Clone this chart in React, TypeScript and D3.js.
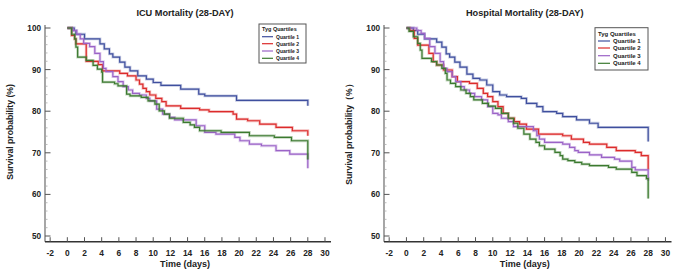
import React from "react";
import * as d3 from "d3";

// ---------- DATA ----------
const seriesNames = ["Quartile 1", "Quartile 2", "Quartile 3", "Quartile 4"];
const seriesColors = ["#3f4f9e", "#dc2b2b", "#9b63c7", "#3b7a2f"];
const legendTitle = "Tyg Quartiles";
const xTicks = [-2, 0, 2, 4, 6, 8, 10, 12, 14, 16, 18, 20, 22, 24, 26, 28, 30];
const yTicks = [50, 60, 70, 80, 90, 100];
const yMinorTicks = [52, 54, 56, 58, 62, 64, 66, 68, 72, 74, 76, 78, 82, 84, 86, 88, 92, 94, 96, 98];

// ICU mortality (28-day): [time (days), survival %]
const icuQ1 = [[0,100],[0.8,99.4],[1.0,98.5],[2.0,97.4],[3.8,96.2],[4.3,95],[4.9,93.8],[5.3,93],[6.1,91.8],[6.7,90.6],[7.3,89.7],[8.2,88.5],[9.2,87.7],[10,86.9],[10.9,86.2],[13.2,85.3],[15.3,84.1],[16,83.7],[19.7,82.6],[28,81.3]];
const icuQ2 = [[0,100],[0.5,98.2],[0.85,97.4],[1.0,96.2],[2.2,92.0],[3.6,91.2],[4.1,89.7],[6.1,89.1],[7.0,88.5],[8.0,87.5],[8.4,86.5],[8.8,85.5],[9.2,84.7],[9.6,83.9],[10.3,83.1],[11,82.3],[11.5,81.3],[13.2,80.7],[15.4,80.3],[16.5,79.9],[19.3,79.3],[19.7,78.1],[21,77.7],[22.4,76.9],[24.3,76.1],[26.2,75.3],[28,74.1]];
const icuQ3 = [[0,100],[0.65,99.4],[1.1,98.5],[1.5,97.4],[1.9,96.3],[2.6,95.5],[3.2,93.9],[3.8,91.9],[4.2,90.3],[4.5,89.5],[5.3,88.3],[5.9,87.1],[6.5,85.9],[7.1,85.1],[7.6,84.3],[8.4,83.9],[9.2,83.1],[9.6,82.5],[10.4,80.5],[11.1,79.3],[11.9,78.5],[12.5,77.9],[15,76.5],[16,74.9],[17.3,74.5],[19.5,73.7],[20.1,72.9],[21.2,72.1],[22.6,71.7],[24.3,70.5],[25.9,69.7],[28,66.3]];
const icuQ4 = [[0,100],[0.5,98.5],[0.85,97.4],[1.0,95.4],[1.2,93],[2.2,92.2],[3.0,91],[3.5,90.1],[4.0,89.4],[4.1,87],[5.5,86.6],[5.9,86.1],[6.9,84.1],[7.3,83.7],[8.6,83.3],[9.4,82.5],[10.2,81.7],[10.7,80.1],[11.3,79.3],[11.9,78.3],[13.5,77.3],[14.3,76.7],[14.8,76.1],[15.4,75.3],[17.9,74.9],[21.2,74.1],[24.1,73.7],[26.1,72.9],[28,68.4]];

// Hospital mortality (28-day)
const hospQ1 = [[0,100],[0.8,99.4],[1.3,98.5],[2.1,97.4],[3.5,96.6],[4.1,95.4],[4.6,93.8],[5,93],[5.6,91.8],[6.2,90.6],[7,88.9],[7.7,87.9],[8.5,87.5],[9.3,86.3],[10,84.7],[10.8,83.9],[11.6,83.5],[13.3,83.1],[13.9,81.9],[15.1,81.1],[15.8,79.9],[17.4,79.5],[18.1,78.7],[19.7,77.9],[21.2,77.1],[22.2,76.1],[28,72.7]];
const hospQ2 = [[0,100],[0.4,99.4],[0.9,97.5],[1.3,95.9],[2.6,93.9],[3.1,91.9],[3.5,91.1],[4.3,89.9],[5.3,88.3],[5.9,87.1],[7.3,86.7],[8.2,85.5],[8.9,84.3],[9.4,83.5],[10,82.3],[10.6,81.1],[11.2,79.5],[11.8,78.3],[12.5,77.5],[13.1,76.9],[13.9,75.7],[15.3,74.5],[18.1,74.1],[19.1,73.3],[20.5,72.5],[21.2,72.1],[23.2,71.3],[24.3,70.5],[26.5,70.1],[27.2,69.3],[28,66.0]];
const hospQ3 = [[0,100],[1.2,99.4],[1.7,98.7],[2.1,97.5],[2.7,95.5],[3.3,93.9],[3.9,91.9],[4.3,90.3],[4.7,89.5],[5.3,88.3],[5.7,87.1],[6.3,85.9],[6.7,85.1],[7.3,84.3],[7.9,83.5],[8.7,82.7],[9.4,81.1],[10,79.5],[10.6,79.1],[11,78.3],[11.8,77.5],[12.4,76.3],[14.7,75.3],[15.1,74.1],[15.4,73.3],[16,72.5],[18.1,72.1],[18.9,71.3],[19.5,70.5],[19.9,70.1],[21.2,69.5],[22.6,68.9],[24.1,68.5],[24.7,68.0],[26.1,66.5],[26.5,65.9],[28,63.3]];
const hospQ4 = [[0,100],[0.3,99.2],[0.8,97.9],[1.3,96.3],[1.6,94.7],[1.8,92.7],[2.9,91.9],[3.5,91.1],[4.1,90.3],[4.5,89.1],[4.7,87.5],[5.1,86.7],[5.7,85.9],[6.3,85.1],[6.9,84.3],[7.4,83.5],[7.8,82.7],[8.8,81.9],[9.5,81.2],[10.3,80.7],[11,79.5],[11.8,78.3],[12.4,77.1],[12.9,75.9],[13.6,74.5],[14.3,73.3],[15,72.5],[15.4,71.7],[16,70.9],[17.2,70.1],[17.8,69.3],[18.1,68.5],[18.7,68.1],[19.5,67.7],[20.3,67.3],[21.2,66.9],[23.4,66.5],[24.3,66.1],[26.1,65.3],[26.7,64.5],[27.8,63.8],[28,59.0]];

const FONT = "'Liberation Sans', Arial, Helvetica, sans-serif";

type PanelProps = {
  x0: number; x1: number; title: string; yLabel: string; series: number[][][];
  legend: { x: number; y: number; w: number; h: number; fs: number; tfs: number; rowY: number[]; titleY: number; lineLen: number };
};

function Panel({ x0, x1, title, yLabel, series, legend }: PanelProps) {
  const yTop = 25, yBot = 241.7;
  const x = d3.scaleLinear().domain([-2.6, 30.7]).range([x0, x1]);
  const y = d3.scaleLinear().domain([48.63, 100]).range([yBot, 28]);
  const line = d3.line<number[]>().x(d => x(d[0])).y(d => y(d[1])).curve(d3.curveStepAfter);
  const cx = (x0 + x1) / 2 - 5;
  return (
    <g fontFamily={FONT}>
      <text x={cx + 2} y={16} textAnchor="middle" fontSize={9.2} fontWeight="bold" fill="#222">{title}</text>
      <text transform={`translate(${x0 - 32},132) rotate(-90)`} textAnchor="middle" fontSize={8.6} fontWeight="bold" fill="#222">{yLabel}</text>
      <text x={cx + 2} y={267} textAnchor="middle" fontSize={9} fontWeight="bold" fill="#222">Time (days)</text>
      {/* y axis */}
      <line x1={x0} x2={x0} y1={yTop} y2={yBot} stroke="#777" strokeWidth={1.3} />
      {yMinorTicks.map(t => (
        <line key={"m" + t} x1={x0} x2={x0 + 2.5} y1={y(t)} y2={y(t)} stroke="#aaa" strokeWidth={0.8} />
      ))}
      {yTicks.map(t => (
        <g key={"y" + t}>
          <line x1={x0} x2={x0 + 5.5} y1={y(t)} y2={y(t)} stroke="#555" strokeWidth={1} />
          <text x={x0 - 4} y={y(t) + 3} textAnchor="end" fontSize={8.2} fontWeight="bold" fill="#222">{t}</text>
        </g>
      ))}
      {/* x axis */}
      <line x1={x0} x2={x1} y1={yBot} y2={yBot} stroke="#333" strokeWidth={1.4} />
      {xTicks.map(t => (
        <g key={"x" + t}>
          <line x1={x(t)} x2={x(t)} y1={yBot} y2={yBot - 4.5} stroke="#555" strokeWidth={1} />
          <text x={x(t)} y={256} textAnchor="middle" fontSize={8.4} fontWeight="bold" fill="#222">{t}</text>
        </g>
      ))}
      {/* curves */}
      {series.map((s, i) => (
        <g key={"s" + i}>
          <path d={line(s) || ""} fill="none" stroke={seriesColors[i]} strokeOpacity={0.3} strokeWidth={2.8} />
          <path d={line(s) || ""} fill="none" stroke={seriesColors[i]} strokeWidth={1.2} />
        </g>
      ))}
      {/* legend */}
      <rect x={legend.x} y={legend.y} width={legend.w} height={legend.h} fill="#fff" stroke="#555" strokeWidth={1} />
      <text x={legend.x + 3} y={legend.titleY} fontSize={legend.tfs} fontWeight="bold" fill="#222">{legendTitle}</text>
      {seriesNames.map((n, i) => (
        <g key={"l" + i}>
          <line x1={legend.x + 3} x2={legend.x + 3 + legend.lineLen} y1={legend.rowY[i]} y2={legend.rowY[i]} stroke={seriesColors[i]} strokeWidth={1.2} />
          <text x={legend.x + 6 + legend.lineLen} y={legend.rowY[i] + legend.fs * 0.36} fontSize={legend.fs} fontWeight="bold" fill="#222">{n}</text>
        </g>
      ))}
    </g>
  );
}

export default function App() {
  return (
    <svg width={685} height={279} style={{ position: "absolute", left: 0, top: 0, background: "#fff" }}>
      <rect width={685} height={279} fill="#fff" />
      <Panel x0={45} x1={331} title="ICU Mortality (28-DAY)" yLabel="Survival probability (%)"
        series={[icuQ1, icuQ2, icuQ3, icuQ4]}
        legend={{ x: 259, y: 24, w: 47, h: 39, fs: 5, tfs: 5.5, titleY: 31, rowY: [36.7, 43.7, 51, 58.3], lineLen: 11 }} />
      <Panel x0={384} x1={671.5} title="Hospital Mortality (28-DAY)" yLabel="Survival probability（%）"
        series={[hospQ1, hospQ2, hospQ3, hospQ4]}
        legend={{ x: 595, y: 27.7, w: 53, h: 42.3, fs: 6, tfs: 6, titleY: 35.5, rowY: [41, 48, 55.7, 63.3], lineLen: 12 }} />
    </svg>
  );
}
